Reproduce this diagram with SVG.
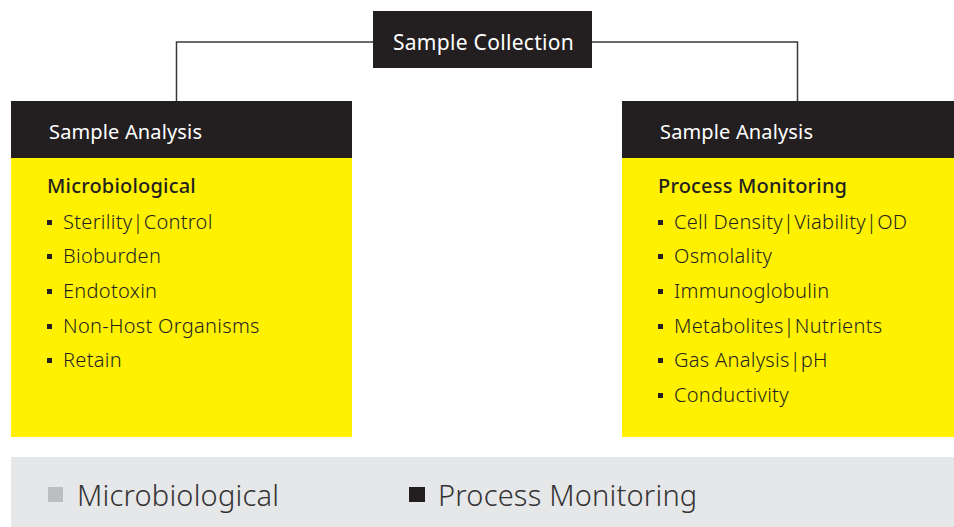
<svg xmlns="http://www.w3.org/2000/svg" width="954" height="527" viewBox="0 0 954 527">
<style>
.hdr{fill:#231f20}
.body{fill:#fff100}
.ht{font-family:"Noto Sans",sans-serif;font-size:20px;fill:#ffffff;letter-spacing:0.15px}
.tt{font-family:"Noto Sans",sans-serif;font-size:20px;fill:#231f20;font-weight:500;letter-spacing:0.2px}
.it{font-family:"Noto Sans",sans-serif;font-size:20px;fill:#231f20;font-weight:300;letter-spacing:0.3px}
.bl{fill:#231f20}
.conn{fill:none;stroke:#3a3a3a;stroke-width:1.5}
.lg{font-family:"Noto Sans",sans-serif;font-size:29px;fill:#333333;font-weight:300;letter-spacing:0.2px}
</style>
<rect x="0" y="0" width="954" height="527" fill="#ffffff"/>
<g id="connectors">
<polyline class="conn" points="176.5,101 176.5,42 373,42"/>
<polyline class="conn" points="592,42 797.5,42 797.5,101"/>
</g>
<g id="sample-collection">
<rect class="hdr" x="373" y="11" width="219" height="57"/>
<text class="ht" x="483.5" y="50" text-anchor="middle" style="font-size:21px;letter-spacing:0.3px">Sample Collection</text>
</g>
<g id="analysis-micro">
<rect class="hdr" x="11" y="101" width="341" height="57"/>
<rect class="body" x="11" y="158" width="341" height="279"/>
<text class="ht" x="49" y="139">Sample Analysis</text>
<text class="tt" x="47" y="193">Microbiological</text>
<rect class="bl" x="47" y="220" width="5" height="5"/>
<text class="it" x="63" y="229">Sterility|Control</text>
<rect class="bl" x="47" y="254" width="5" height="5"/>
<text class="it" x="63" y="263">Bioburden</text>
<rect class="bl" x="47" y="289" width="5" height="5"/>
<text class="it" x="63" y="298">Endotoxin</text>
<rect class="bl" x="47" y="324" width="5" height="5"/>
<text class="it" x="63" y="333">Non-Host Organisms</text>
<rect class="bl" x="47" y="358" width="5" height="5"/>
<text class="it" x="63" y="367">Retain</text>
</g>
<g id="analysis-process">
<rect class="hdr" x="622" y="101" width="332" height="57"/>
<rect class="body" x="622" y="158" width="332" height="279"/>
<text class="ht" x="660" y="139">Sample Analysis</text>
<text class="tt" x="658" y="193">Process Monitoring</text>
<rect class="bl" x="658" y="220" width="5" height="5"/>
<text class="it" x="674" y="229">Cell Density|Viability|OD</text>
<rect class="bl" x="658" y="254" width="5" height="5"/>
<text class="it" x="674" y="263">Osmolality</text>
<rect class="bl" x="658" y="289" width="5" height="5"/>
<text class="it" x="674" y="298">Immunoglobulin</text>
<rect class="bl" x="658" y="324" width="5" height="5"/>
<text class="it" x="674" y="333">Metabolites|Nutrients</text>
<rect class="bl" x="658" y="358" width="5" height="5"/>
<text class="it" x="674" y="367">Gas Analysis|pH</text>
<rect class="bl" x="658" y="393" width="5" height="5"/>
<text class="it" x="674" y="402">Conductivity</text>
</g>
<g id="legend">
<rect x="11" y="457" width="943" height="70" fill="#e6e7e8"/>
<rect x="48" y="487" width="15" height="15" fill="#bcbec0"/>
<text class="lg" x="77" y="506">Microbiological</text>
<rect x="409" y="487" width="16" height="15" fill="#231f20"/>
<text class="lg" x="438" y="506">Process Monitoring</text>
</g>
</svg>
